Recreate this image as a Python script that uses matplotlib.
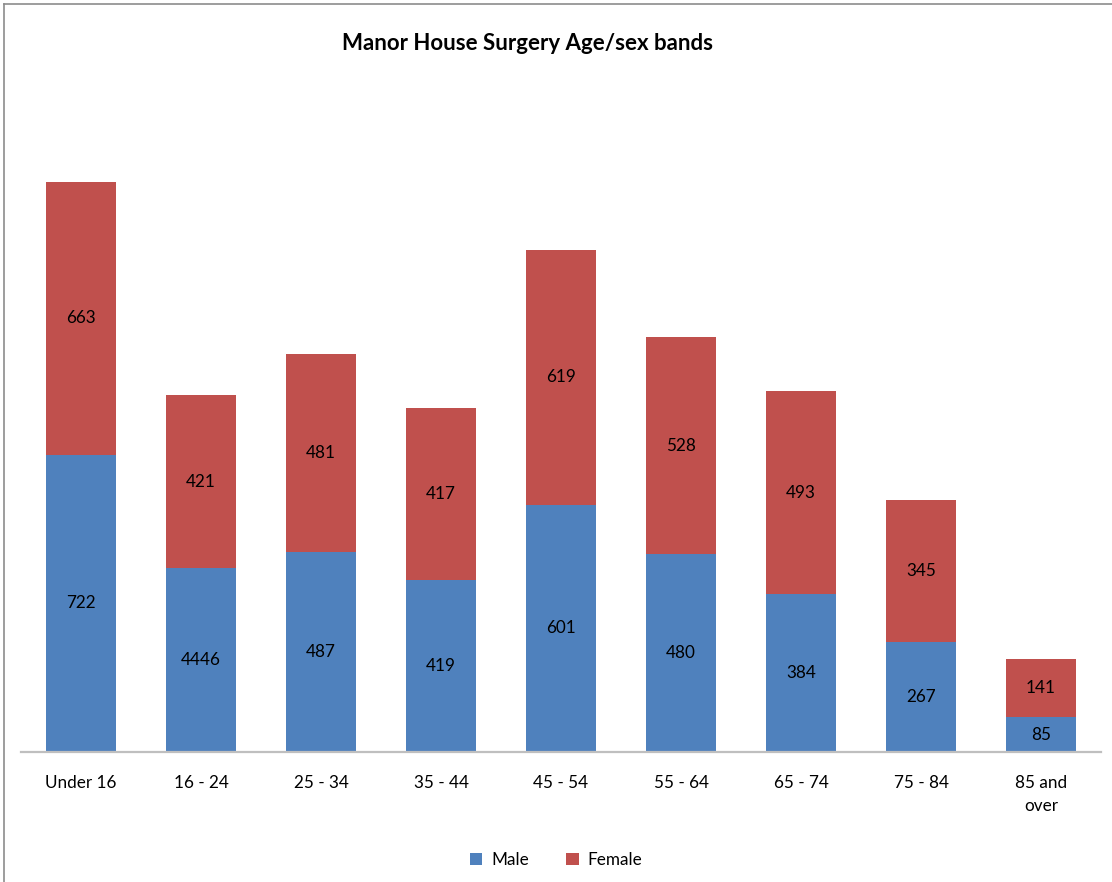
import matplotlib
matplotlib.use("Agg")
import matplotlib.pyplot as plt
from matplotlib.lines import Line2D
from matplotlib.patches import Patch
import numpy as np

plt.rcParams['font.family'] = ['Lato', 'DejaVu Sans']

categories = ['Under 16', '16 - 24', '25 - 34', '35 - 44', '45 - 54',
              '55 - 64', '65 - 74', '75 - 84', '85 and\nover']
male = [722, 446, 487, 419, 601, 480, 384, 267, 85]
female = [663, 421, 481, 417, 619, 528, 493, 345, 141]
male_labels = ['722', '4446', '487', '419', '601', '480', '384', '267', '85']
female_labels = [str(v) for v in female]

BLUE = '#4F81BD'
RED = '#C0504D'

W, H = 1112, 882
fig = plt.figure(figsize=(W / 100, H / 100), dpi=100)

# plot area: baseline at y=752 px, spanning x=21..1101 px
left, right = 21 / W, 1101 / W
bottom = 1 - 752 / H
top = 1 - 93.5 / H
ax = fig.add_axes([left, bottom, right - left, top - bottom])

x = np.arange(len(categories))
bw = 0.583
ax.bar(x, male, bw, color=BLUE, label='Male', zorder=2)
ax.bar(x, female, bw, bottom=male, color=RED, label='Female', zorder=2)

for xi, m, f, ml, fl in zip(x, male, female, male_labels, female_labels):
    ax.text(xi, m / 2, ml, ha='center', va='center', fontsize=12.3, color='black')
    ax.text(xi, m + f / 2, fl, ha='center', va='center', fontsize=12.3, color='black')

ax.set_xlim(-0.5, len(categories) - 0.5)
ax.set_ylim(0, 1600)
ax.set_xticks(x)
ax.set_xticklabels(categories, fontsize=12.3, linespacing=1.55)
ax.tick_params(axis='x', length=0, pad=16.5)
ax.set_yticks([])
for s in ['top', 'right', 'left']:
    ax.spines[s].set_visible(False)
ax.spines['bottom'].set_color('#BFBFBF')
ax.spines['bottom'].set_linewidth(1.6)
ax.set_facecolor('none')

fig.text(527 / W, 1 - 44 / H, 'Manor House Surgery Age/sex bands',
         ha='center', va='center', fontsize=16, fontweight='bold')

handles = [Patch(facecolor=BLUE, label='Male'), Patch(facecolor=RED, label='Female')]
fig.legend(handles=handles, loc='center', bbox_to_anchor=(556 / W, 1 - 860 / H),
           ncol=2, frameon=False, fontsize=12.3, handlelength=0.75, handleheight=0.75,
           handletextpad=0.5, columnspacing=2.2)

# chart frame edges
fig.add_artist(Line2D([4 / W, 1], [1 - 4 / H, 1 - 4 / H], color='#8C8C8C', lw=1.2,
                      transform=fig.transFigure))
fig.add_artist(Line2D([4 / W, 4 / W], [0, 1 - 4 / H], color='#8C8C8C', lw=1.2,
                      transform=fig.transFigure))

fig.savefig('out.png', dpi=100, facecolor='white')
